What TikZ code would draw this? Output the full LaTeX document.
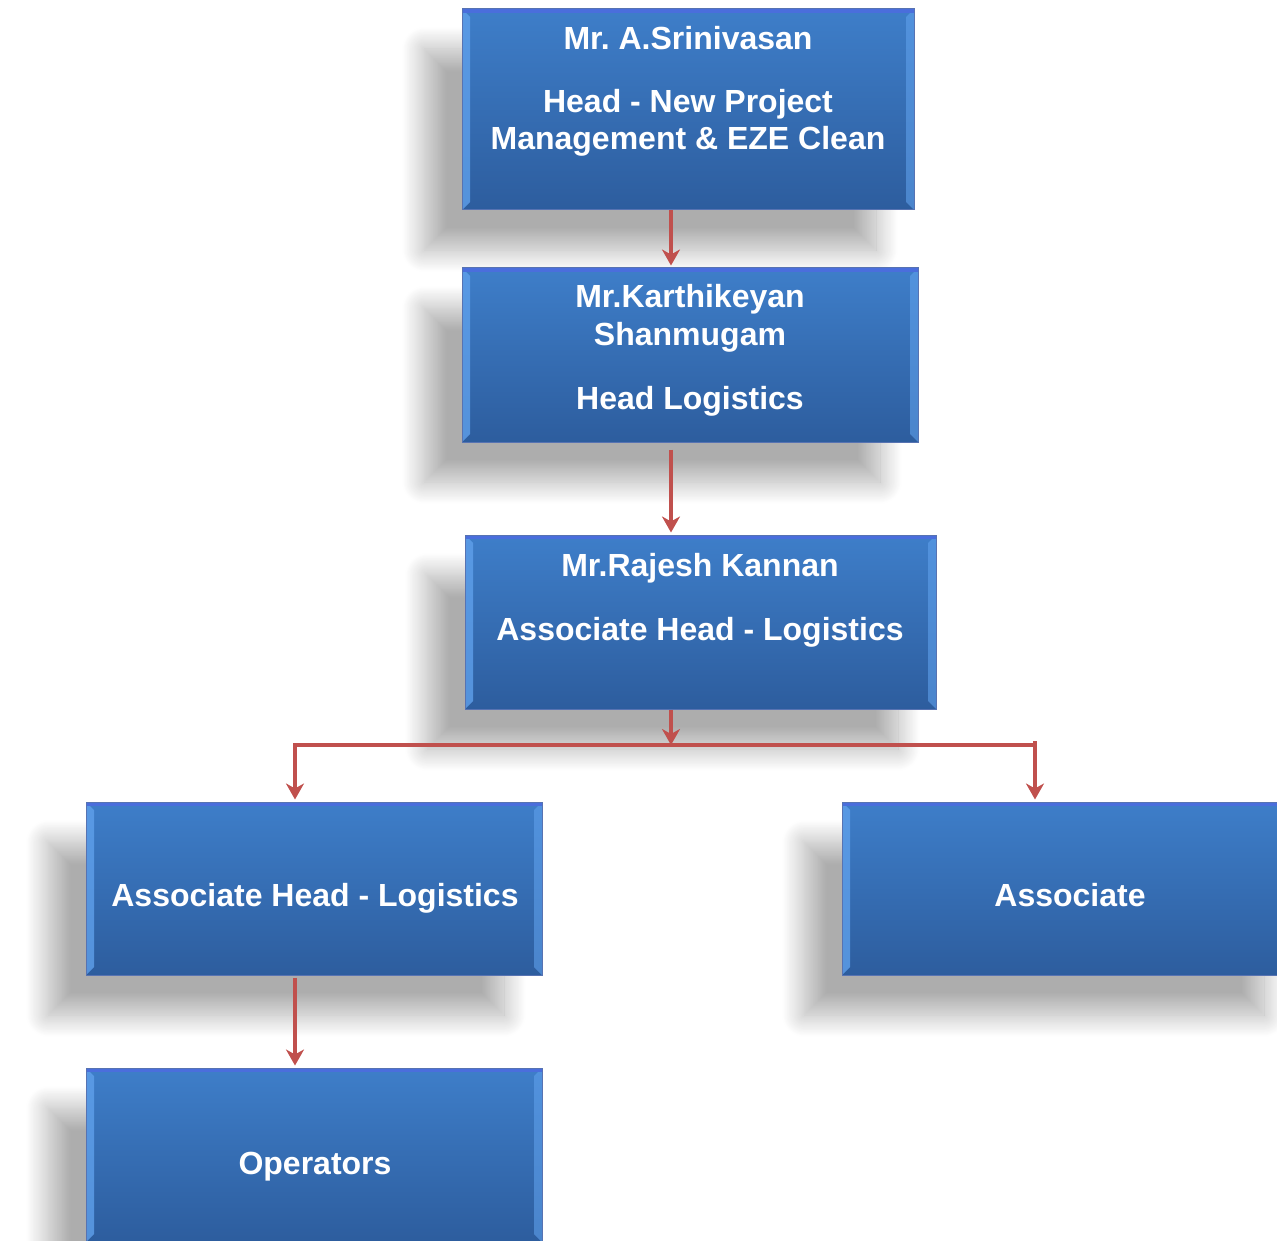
\documentclass[tikz,border=0pt]{standalone}
\usepackage{fontspec}
\setmainfont{Liberation Sans}
\usetikzlibrary{arrows.meta,shadows.blur,calc}
\frenchspacing
\definecolor{boxtop}{RGB}{62,126,201}
\definecolor{boxbot}{RGB}{45,93,158}
\definecolor{bevel}{RGB}{95,160,235}
\definecolor{edge}{RGB}{70,110,200}
\definecolor{topline}{RGB}{74,110,220}
\definecolor{conn}{RGB}{192,80,77}
\tikzset{
  orgbox/.style={rectangle, draw=edge!70!gray, line width=1pt,
    top color=boxtop, bottom color=boxbot, inner sep=0pt,
    blur shadow={shadow xshift=-38pt, shadow yshift=-40pt, shadow blur radius=22pt, shadow opacity=32, shadow blur steps=25},
    path picture={
      \fill[bevel, opacity=0.8] (path picture bounding box.north west) -- ++(8,8)
        -- ($(path picture bounding box.south west)+(8,-8)$) -- (path picture bounding box.south west) -- cycle;
      \fill[bevel, opacity=0.6] (path picture bounding box.north east) -- ++(-8,8)
        -- ($(path picture bounding box.south east)+(-8,-8)$) -- (path picture bounding box.south east) -- cycle;
      \fill[topline] (path picture bounding box.north west) rectangle ($(path picture bounding box.north east)+(0,4)$);
    }},
  boxtext/.style={text=white, font=\fontsize{32}{37}\selectfont\bfseries, anchor=base, inner sep=0pt},
  arr/.style={draw=conn, line width=4pt, -{Stealth[length=16pt,width=18pt,inset=5pt]}},
  conline/.style={draw=conn, line width=4pt}
}
\begin{document}
\begin{tikzpicture}[x=1pt,y=-1pt]
\useasboundingbox (0,0) rectangle (1277,1241);
% boxes
\node[orgbox, minimum width=452pt, minimum height=201pt] (b1) at (688,109.5) {};
\node[orgbox, minimum width=456pt, minimum height=174pt] (b2) at (690,355) {};
\node[orgbox, minimum width=471pt, minimum height=174pt] (b3) at (700.5,622) {};
\node[orgbox, minimum width=456pt, minimum height=173pt] (b4) at (314,888.5) {};
\node[orgbox, minimum width=460pt, minimum height=173pt] (b5) at (1072,888.5) {};
\node[orgbox, minimum width=456pt, minimum height=174pt] (b6) at (314,1155) {};
% texts
\node[boxtext] (t1a) at (688,50) {Mr. A.Srinivasan};
\node[boxtext] (t1b) at (688,113) {Head - New Project};
\node[boxtext] (t1c) at (688,150) {Management \& EZE Clean};
\node[boxtext] (t2a) at (690,308) {Mr.Karthikeyan};
\node[boxtext] (t2b) at (690,345) {Shanmugam};
\node[boxtext] (t2c) at (690,409) {Head Logistics};
\node[boxtext] (t3a) at (700,576) {Mr.Rajesh Kannan};
\node[boxtext] (t3b) at (700,640) {Associate Head - Logistics};
\node[boxtext] (t4) at (315,906) {Associate Head - Logistics};
\node[boxtext] (t5) at (1070,906) {Associate};
\node[boxtext] (t6) at (315,1174) {Operators};
% connector coordinates
\coordinate (j) at (671,745);
\coordinate (jl) at (295,745);
\coordinate (jr) at (1035,745);
% connectors
\draw[arr] (b1.south -| j) -- ([yshift=2pt]b2.north -| j);
\draw[arr] ([yshift=-7pt]b2.south -| j) -- ([yshift=2pt]b3.north -| j);
\draw[conline] ([xshift=-2pt]jl) -- ([xshift=2pt]jr);
\draw[conline] ([yshift=4pt]jr) -- (jr);
\draw[arr] (b3.south -| j) -- (j);
\draw[arr] (jl) -- ([yshift=2pt]b4.north -| jl);
\draw[arr] (jr) -- ([yshift=2pt]b5.north -| jr);
\draw[arr] ([yshift=-2pt]b4.south -| jl) -- ([yshift=2pt]b6.north -| jl);
\end{tikzpicture}
\end{document}
